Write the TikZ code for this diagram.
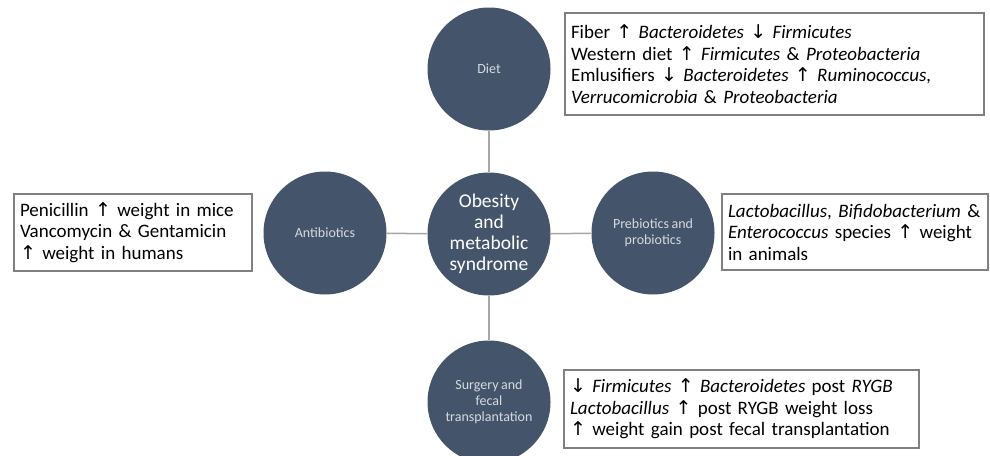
\documentclass[tikz,border=0pt]{standalone}
\usepackage{fontspec}
\setmainfont{Carlito}[WordSpace=0.8]
\newfontfamily\arrfont{DejaVu Sans}
\newcommand{\uar}{{\arrfont\fontsize{19}{19}\selectfont ↑}}
\newcommand{\dar}{{\arrfont\fontsize{19}{19}\selectfont ↓}}
\definecolor{circfill}{HTML}{44546A}
\definecolor{circtext}{HTML}{D6DAE0}
\definecolor{linkgray}{HTML}{A6A6A6}
\definecolor{boxgray}{HTML}{808080}
\tikzset{
  bubble/.style={circle, fill=circfill, minimum size=123pt, inner sep=0pt, align=center,
    text=circtext, font=\fontsize{14}{16}\selectfont},
  hub/.style={bubble, text=white, font=\fontsize{19.5}{21}\selectfont},
  link/.style={draw=linkgray, line width=1.5pt},
  infobox/.style={draw=boxgray, line width=1.2pt, fill=white, inner xsep=6pt, inner ysep=0pt,
    align=left, font=\fontsize{19}{21.5}\selectfont, text=black}
}
\begin{document}
\begin{tikzpicture}[x=1pt, y=-1pt]
\useasboundingbox (0,0) rectangle (990,455);
\node[hub] (c) at (489,234) {Obesity\\and\\metabolic\\syndrome};
\node[bubble] (diet) at (489,69) {Diet};
\node[bubble] (anti) at (325,233) {Antibiotics};
\node[bubble] (pre) at (653,233) {Prebiotics and\\probiotics};
\node[bubble] (surg) at (489,402) {Surgery and\\fecal\\transplantation};
\draw[link] (diet) -- (c);
\draw[link] (anti) -- (c);
\draw[link] (pre) -- (c);
\draw[link] (surg) -- (c);
\node[infobox, minimum width=419pt, minimum height=102pt, text width=407pt] (bdiet) at (774.5,64)
 {Fiber \uar{} \textit{Bacteroidetes} \dar{} \textit{Firmicutes}\\
  Western diet \uar{} \textit{Firmicutes} \& \textit{Proteobacteria}\\
  Emlusifiers \dar{} \textit{Bacteroidetes} \uar{} \textit{Ruminococcus,}\\
  \textit{Verrucomicrobia} \& \textit{Proteobacteria}};
\node[infobox, minimum width=238pt, minimum height=77pt, text width=226pt] (banti) at (133,232.5)
 {Penicillin \uar{} weight in mice\\
  Vancomycin \& Gentamicin\\
  \uar{} weight in humans};
\node[infobox, minimum width=266pt, minimum height=76pt, text width=254pt] (bpre) at (855,232)
 {\textit{Lactobacillus}, \textit{Bifidobacterium} \&\\
  \textit{Enterococcus} species \uar{} weight\\
  in animals};
\node[infobox, minimum width=355pt, minimum height=78pt, text width=343pt] (bsurg) at (741.5,409)
 {\dar{} \textit{Firmicutes} \uar{} \textit{Bacteroidetes} post \textit{RYGB}\\
  \textit{Lactobacillus} \uar{} post RYGB weight loss\\
  \uar{} weight gain post fecal transplantation};
\end{tikzpicture}
\end{document}
